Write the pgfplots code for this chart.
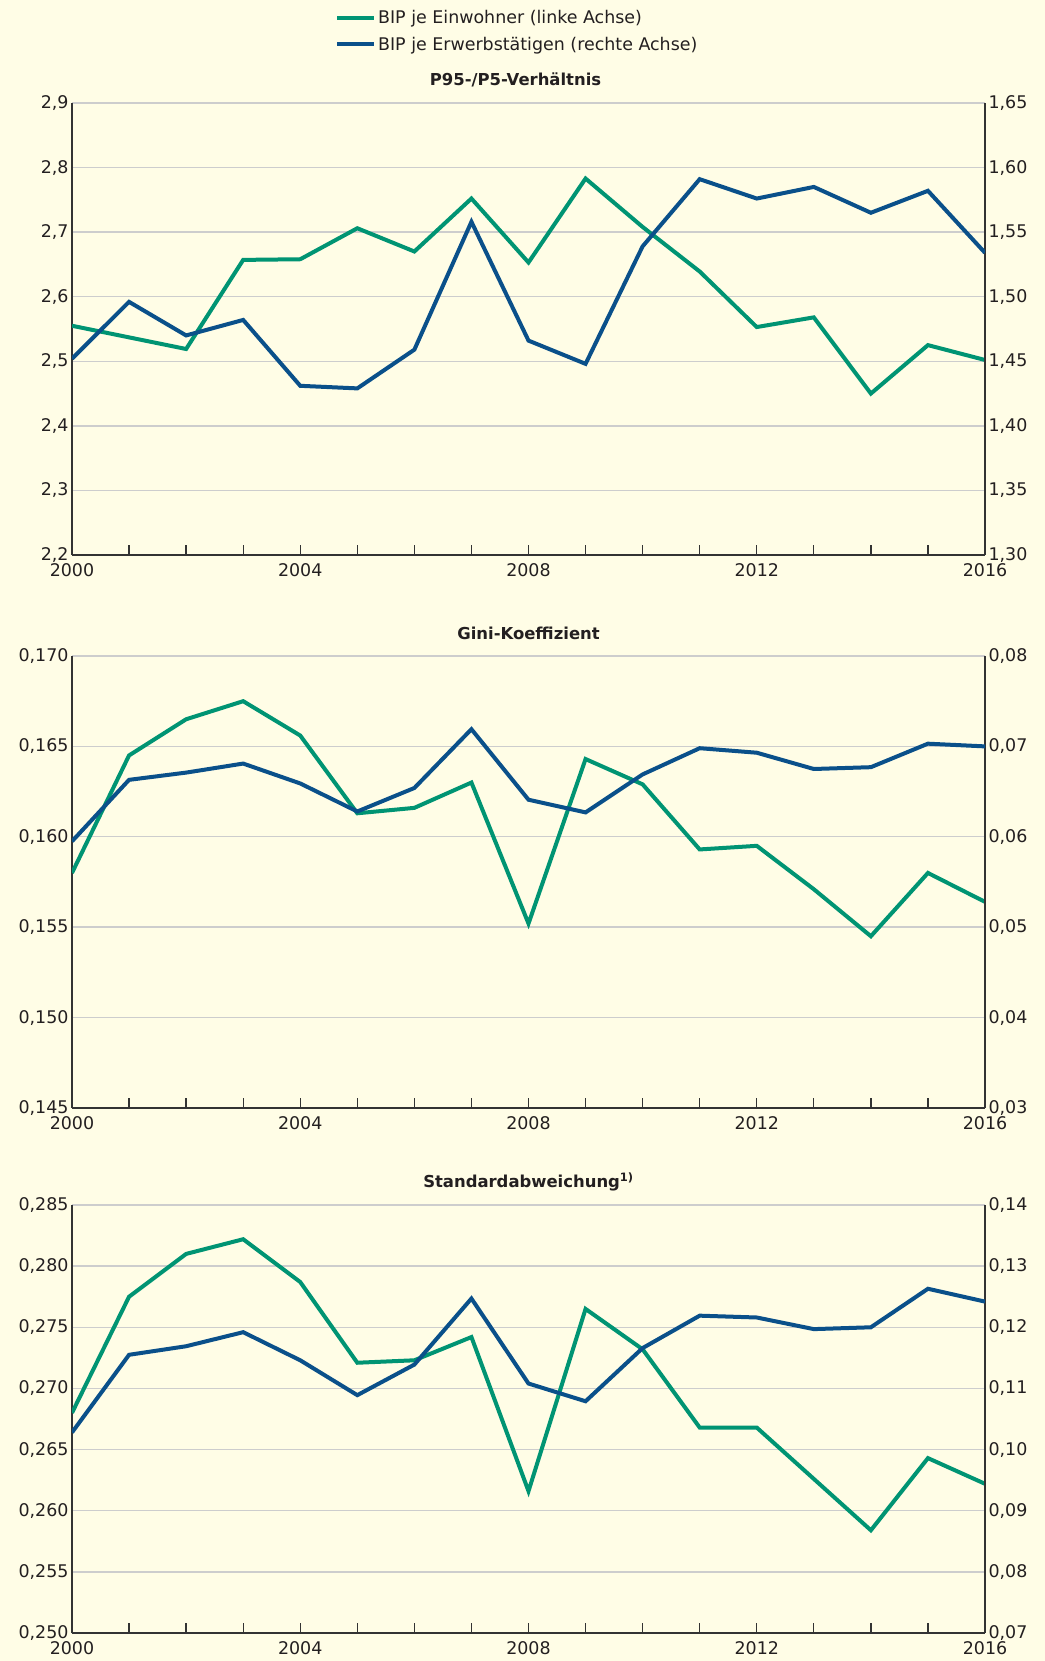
\documentclass[border=0pt]{standalone}
\usepackage{pgfplots}
\pgfplotsset{compat=1.18}
\usepackage{fontspec}
\setmainfont{DejaVu Sans}
\definecolor{bg}{RGB}{255,253,230}
\definecolor{cgreen}{RGB}{0,148,115}
\definecolor{cblue}{RGB}{10,80,138}
\definecolor{axcol}{RGB}{51,51,51}
\definecolor{gridcol}{RGB}{205,205,205}
\definecolor{txt}{RGB}{35,31,32}
\tikzset{ttl/.style={font=\fontsize{16.5}{20}\selectfont\bfseries, text=txt}}
\pgfplotsset{
 base/.style={scale only axis, width=913bp, xmin=2000, xmax=2016,
  clip mode=individual,
  xtick={2000,2004,2008,2012,2016},
  minor xtick={2001,2002,2003,2005,2006,2007,2009,2010,2011,2013,2014,2015},
  tick align=inside, major tick length=10bp, minor tick length=10bp,
  tick style={draw=axcol, line width=1.3bp},
  axis line style={draw=axcol, line width=1.6bp},
  ticklabel style={font=\fontsize{17.5}{20}\selectfont, text=txt},
  xticklabel style={yshift=-5bp},
  scaled x ticks=false, scaled y ticks=false,
  xticklabel={\pgfmathprintnumber[1000 sep={},fixed,precision=0]{\tick}},
  /pgf/number format/use comma,
  /pgf/number format/fixed,
  /pgf/number format/fixed zerofill,
  /pgf/number format/assume math mode=true,
  enlargelimits=false},
 leftax/.style={base, axis x line*=bottom, axis y line*=left, ymajorgrids,
  grid style={draw=gridcol, line width=1.4bp}, ytick style={draw=none}},
 rightax/.style={base, axis x line=none, axis y line*=right, ytick style={draw=none}},
 gl/.style={draw=cgreen, line width=4bp, mark=none, line join=miter},
 bl/.style={draw=cblue, line width=4bp, mark=none, line join=miter},
}
\begin{document}
\begin{tikzpicture}
\fill[bg] (0,0) rectangle (1045bp,1661bp);
\useasboundingbox (0,0) rectangle (1045bp,1661bp);
% ---------- Panel 1
\begin{axis}[leftax, at={(72bp,1106bp)}, anchor=south west, height=452bp,
  ymin=2.2, ymax=2.9, ytick={2.2,2.3,2.4,2.5,2.6,2.7,2.8,2.9},
  /pgf/number format/precision=1,
  legend style={draw=none, fill=none, at={(0.288,1)}, anchor=south west, yshift=49bp,
   font=\fontsize{17.5}{20}\selectfont, text=txt, row sep=8bp, inner sep=0pt},
  legend cell align=left,
  legend image code/.code={\draw[#1, line width=4bp] (0bp,0bp) -- (37bp,0bp);}]
\addplot[gl] coordinates {(2000,2.555) (2001,2.537) (2002,2.519) (2003,2.657) (2004,2.658) (2005,2.706) (2006,2.670) (2007,2.752) (2008,2.653) (2009,2.783) (2010,2.708) (2011,2.639) (2012,2.553) (2013,2.568) (2014,2.450) (2015,2.525) (2016,2.502)};
\addlegendentry{BIP je Einwohner (linke Achse)}
\addlegendimage{bl}
\addlegendentry{BIP je Erwerbstätigen (rechte Achse)}
\node[ttl] at (rel axis cs:0.5,1) [yshift=23bp, xshift=-13bp] {P95-/P5-Verhältnis};
\end{axis}
\begin{axis}[rightax, at={(72bp,1106bp)}, anchor=south west, height=452bp,
  ymin=1.30, ymax=1.65, ytick={1.30,1.35,1.40,1.45,1.50,1.55,1.60,1.65},
  /pgf/number format/precision=2]
\addplot[bl] coordinates {(2000,1.452) (2001,1.496) (2002,1.470) (2003,1.482) (2004,1.431) (2005,1.429) (2006,1.459) (2007,1.558) (2008,1.466) (2009,1.448) (2010,1.539) (2011,1.591) (2012,1.576) (2013,1.585) (2014,1.565) (2015,1.582) (2016,1.534)};
\end{axis}
% ---------- Panel 2
\begin{axis}[leftax, at={(72bp,553bp)}, anchor=south west, height=452bp,
  ymin=0.145, ymax=0.170, ytick={0.145,0.150,0.155,0.160,0.165,0.170},
  /pgf/number format/precision=3]
\addplot[gl] coordinates {(2000,0.1580) (2001,0.1645) (2002,0.1665) (2003,0.1675) (2004,0.1656) (2005,0.1613) (2006,0.1616) (2007,0.1630) (2008,0.1552) (2009,0.1643) (2010,0.1629) (2011,0.1593) (2012,0.1595) (2013,0.1571) (2014,0.1545) (2015,0.1580) (2016,0.1564)};
\node[ttl] at (rel axis cs:0.5,1) [yshift=23bp] {Gini-Koeffizient};
\end{axis}
\begin{axis}[rightax, at={(72bp,553bp)}, anchor=south west, height=452bp,
  ymin=0.03, ymax=0.08, ytick={0.03,0.04,0.05,0.06,0.07,0.08},
  /pgf/number format/precision=2]
\addplot[bl] coordinates {(2000,0.0595) (2001,0.0663) (2002,0.0671) (2003,0.0681) (2004,0.0659) (2005,0.0628) (2006,0.0654) (2007,0.0719) (2008,0.0641) (2009,0.0627) (2010,0.0669) (2011,0.0698) (2012,0.0693) (2013,0.0675) (2014,0.0677) (2015,0.0703) (2016,0.0700)};
\end{axis}
% ---------- Panel 3
\begin{axis}[leftax, at={(72bp,28bp)}, anchor=south west, height=428bp,
  ymin=0.250, ymax=0.285, ytick={0.250,0.255,0.260,0.265,0.270,0.275,0.280,0.285},
  /pgf/number format/precision=3]
\addplot[gl] coordinates {(2000,0.2680) (2001,0.2775) (2002,0.2810) (2003,0.2822) (2004,0.2787) (2005,0.2721) (2006,0.2723) (2007,0.2742) (2008,0.2616) (2009,0.2765) (2010,0.2732) (2011,0.2668) (2012,0.2668) (2013,0.2626) (2014,0.2584) (2015,0.2643) (2016,0.2622)};
\node[ttl] at (rel axis cs:0.5,1) [yshift=23bp] {Standardabweichung\textsuperscript{1)}};
\end{axis}
\begin{axis}[rightax, at={(72bp,28bp)}, anchor=south west, height=428bp,
  ymin=0.07, ymax=0.14, ytick={0.07,0.08,0.09,0.10,0.11,0.12,0.13,0.14},
  /pgf/number format/precision=2]
\addplot[bl] coordinates {(2000,0.1028) (2001,0.1155) (2002,0.1169) (2003,0.1192) (2004,0.1146) (2005,0.1089) (2006,0.1139) (2007,0.1247) (2008,0.1108) (2009,0.1079) (2010,0.1166) (2011,0.1219) (2012,0.1216) (2013,0.1197) (2014,0.1200) (2015,0.1263) (2016,0.1242)};
\end{axis}
\end{tikzpicture}
\end{document}
